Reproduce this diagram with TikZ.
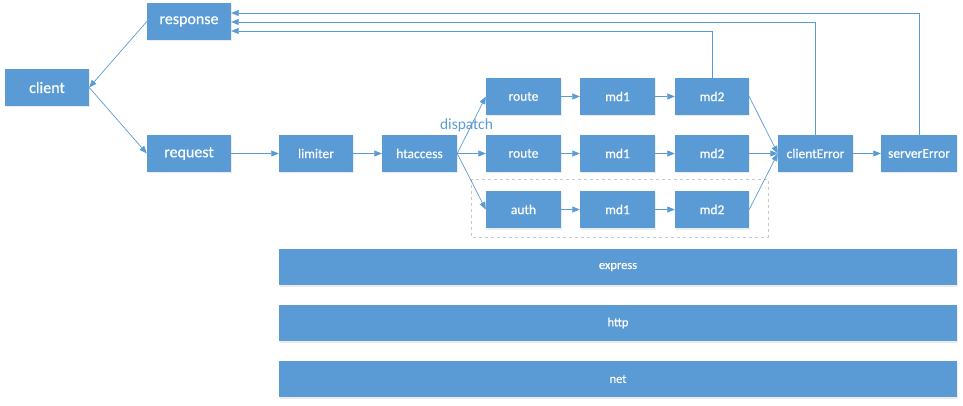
\documentclass[tikz,border=0pt]{standalone}
\usepackage{fontspec}
\setmainfont{Carlito}
\newfontfamily\boxfont{Carlito}[FakeBold=0.35]
\usetikzlibrary{arrows.meta,shadows}
\definecolor{boxblue}{HTML}{5B9BD5}
\definecolor{lineblue}{HTML}{5B9BD5}
\definecolor{dashgray}{HTML}{C8C8C8}
\tikzset{
  bx/.style={fill=boxblue, draw=none, text=white, inner sep=0pt,
    minimum height=37pt, font=\boxfont\fontsize{13.5}{15}\selectfont,
    drop shadow={shadow xshift=1pt, shadow yshift=-1.5pt, fill=black!15, opacity=0.5}},
  bigbx/.style={bx, font=\boxfont\fontsize{16}{18}\selectfont},
  bar/.style={bx, minimum width=678pt, minimum height=36pt, font=\boxfont\fontsize{12.5}{14}\selectfont},
  arr/.style={draw=lineblue, line width=0.7pt, -{Triangle[length=7.5pt,width=6pt]}},
}
\begin{document}
\begin{tikzpicture}[x=1pt,y=-1pt]
\useasboundingbox (0,0) rectangle (963,406);
% dashed group
\draw[dashgray, dashed, line width=0.7pt] (471,179) rectangle (768,237);
% nodes
\node[bigbx, minimum width=84pt] (response) at (189,21.5) {response};
\node[bigbx, minimum width=84pt] (client) at (47,87.5) {client};
\node[bigbx, minimum width=84pt] (request) at (189,153.5) {request};
\node[bx, minimum width=74pt] (limiter) at (316,153.5) {limiter};
\node[bx, minimum width=75pt] (htaccess) at (419.5,153.5) {htaccess};
\node[bx, minimum width=75pt] (routeA) at (523.5,96.5) {route};
\node[bx, minimum width=75pt] (mdA1) at (617.5,96.5) {md1};
\node[bx, minimum width=74pt] (mdA2) at (712,96.5) {md2};
\node[bx, minimum width=75pt] (routeB) at (523.5,153.5) {route};
\node[bx, minimum width=75pt] (mdB1) at (617.5,153.5) {md1};
\node[bx, minimum width=74pt] (mdB2) at (712,153.5) {md2};
\node[bx, minimum width=75pt] (auth) at (523.5,209.5) {auth};
\node[bx, minimum width=75pt] (mdC1) at (617.5,209.5) {md1};
\node[bx, minimum width=74pt] (mdC2) at (712,209.5) {md2};
\node[bx, minimum width=75pt] (clientError) at (815.5,153.5) {clientError};
\node[bx, minimum width=76pt] (serverError) at (919,153.5) {serverError};
\node[bar] (express) at (618,267) {express};
\node[bar] (http) at (618,323) {http};
\node[bar] (net) at (618,379) {net};
\node[text=lineblue, font=\fontsize{15.5}{17}\selectfont, inner sep=0pt] (dispatch) at (466.5,125) {dispatch};
% connectors
\draw[arr] (response.west) -- (client.east);
\draw[arr] (client.east) -- (request.west);
\draw[arr] (request) -- (limiter);
\draw[arr] (limiter) -- (htaccess);
\draw[arr] (htaccess.east) -- (routeA.west);
\draw[arr] (htaccess.east) -- (routeB.west);
\draw[arr] (htaccess.east) -- (auth.west);
\draw[arr] (routeA) -- (mdA1);
\draw[arr] (mdA1) -- (mdA2);
\draw[arr] (routeB) -- (mdB1);
\draw[arr] (mdB1) -- (mdB2);
\draw[arr] (auth) -- (mdC1);
\draw[arr] (mdC1) -- (mdC2);
\draw[arr] (mdA2.east) -- (clientError.west);
\draw[arr] (mdB2.east) -- (clientError.west);
\draw[arr] (mdC2.east) -- (clientError.west);
\draw[arr] (clientError) -- (serverError);
\draw[arr] (mdA2.north) |- ([yshift=-9.5pt]response.east);
\draw[arr] (clientError.north) |- ([yshift=-0.5pt]response.east);
\draw[arr] (serverError.north) |- ([yshift=8.5pt]response.east);
\end{tikzpicture}
\end{document}
